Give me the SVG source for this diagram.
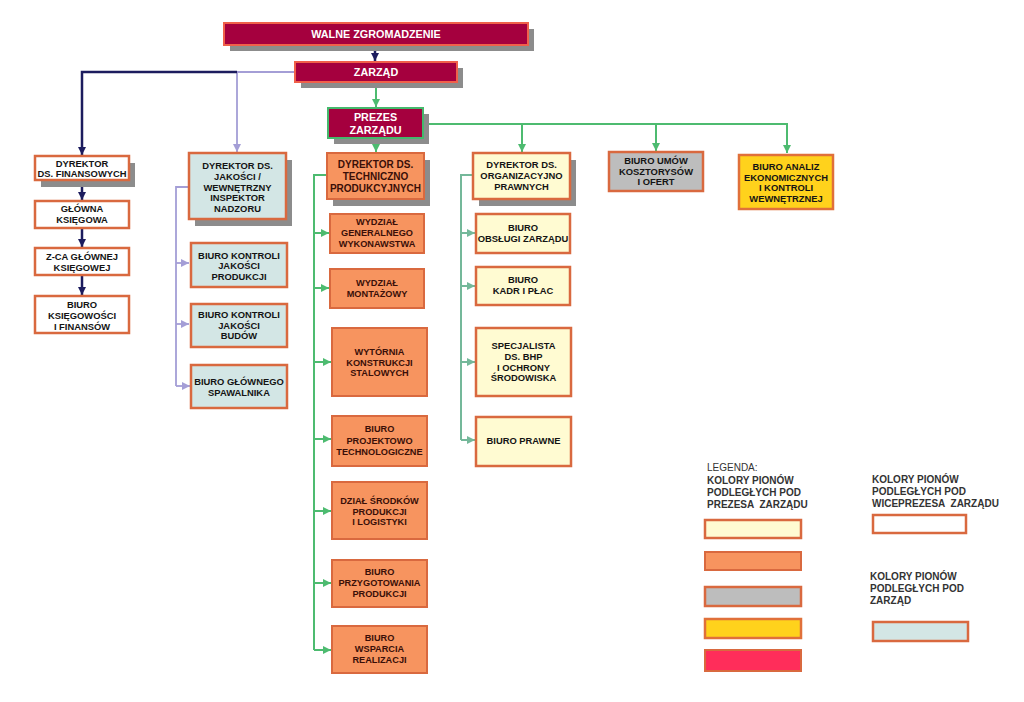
<svg xmlns="http://www.w3.org/2000/svg" width="1024" height="702" viewBox="0 0 1024 702">
<style>
text{font-family:"Liberation Sans",Arial,sans-serif;font-weight:bold;font-size:9.4px;text-anchor:middle;fill:#141414}
.t{fill:#ffffff;font-size:10.8px}
.ot{fill:#3a0f08;font-size:9.2px}
.sh{fill:#8c8c8c}
.top{fill:#a5003e;stroke:#f0604a;stroke-width:2}
.topg{fill:#a5003e;stroke:#45b86c;stroke-width:2}
.w{fill:#ffffff;stroke:#d9693f;stroke-width:2.5}
.b{fill:#d3e6e5;stroke:#d9693f;stroke-width:2.5}
.o{fill:#f7945f;stroke:#d9693f;stroke-width:2}
.y{fill:#fffbd2;stroke:#d9693f;stroke-width:2.5}
.g{fill:#bdbdbd;stroke:#d9693f;stroke-width:2.5}
.gold{fill:#ffd21c;stroke:#e0703a;stroke-width:2.5}
.pk{fill:#ff2d5a;stroke:#d9693f;stroke-width:2}
.lg{font-weight:normal;text-anchor:start;fill:#333;font-size:10px}
.lgb{text-anchor:start;fill:#333;font-size:10px;font-weight:bold;white-space:pre}
.cn{fill:none;stroke:#1c1c5e;stroke-width:2.5}
.cl{fill:none;stroke:#a49ed6;stroke-width:1.8}
.cg{fill:none;stroke:#4dbb70;stroke-width:2}
.ct{fill:none;stroke:#74b89a;stroke-width:2}
</style>
<defs>
<marker id="an" markerUnits="userSpaceOnUse" markerWidth="9" markerHeight="9" refX="8" refY="4.5" orient="auto"><path d="M0,0.5 L8,4.5 L0,8.5 Z" fill="#1c1c5e"/></marker>
<marker id="al" markerUnits="userSpaceOnUse" markerWidth="9" markerHeight="9" refX="8" refY="4.5" orient="auto"><path d="M0,0.5 L8,4.5 L0,8.5 Z" fill="#a49ed6"/></marker>
<marker id="ag" markerUnits="userSpaceOnUse" markerWidth="9" markerHeight="9" refX="8" refY="4.5" orient="auto"><path d="M0,0.5 L8,4.5 L0,8.5 Z" fill="#4dbb70"/></marker>
<marker id="at" markerUnits="userSpaceOnUse" markerWidth="9" markerHeight="9" refX="8" refY="4.5" orient="auto"><path d="M0,0.5 L8,4.5 L0,8.5 Z" fill="#74b89a"/></marker>
</defs>
<rect width="1024" height="702" fill="#ffffff"/>

<g id="connectors">
<path class="cn" d="M375,45 V61" marker-end="url(#an)"/>
<path class="cl" d="M295,72 H237 V152" marker-end="url(#al)"/>
<path class="cn" d="M237,72 H82 V155" marker-end="url(#an)"/>
<path class="cn" d="M82,181 V200" marker-end="url(#an)"/>
<path class="cn" d="M82,229 V247" marker-end="url(#an)"/>
<path class="cn" d="M82,276 V295" marker-end="url(#an)"/>
<path class="cl" d="M189,187 H176 V386"/>
<path class="cl" d="M176,263 H189" marker-end="url(#al)"/>
<path class="cl" d="M176,324 H189" marker-end="url(#al)"/>
<path class="cl" d="M176,386 H190" marker-end="url(#al)"/>
<path class="cg" d="M376,83 V107" marker-end="url(#ag)"/>
<path class="cg" d="M376,139 V152" marker-end="url(#ag)"/>
<path class="cg" d="M424,124 H787 V153" marker-end="url(#ag)"/>
<path class="cg" d="M522,124 V152" marker-end="url(#ag)"/>
<path class="cg" d="M656,124 V151" marker-end="url(#ag)"/>
<path class="cg" d="M327,175 H314 V650"/>
<path class="cg" d="M314,233 H329" marker-end="url(#ag)"/>
<path class="cg" d="M314,288 H329" marker-end="url(#ag)"/>
<path class="cg" d="M314,362 H331" marker-end="url(#ag)"/>
<path class="cg" d="M314,439 H331" marker-end="url(#ag)"/>
<path class="cg" d="M314,511 H331" marker-end="url(#ag)"/>
<path class="cg" d="M314,583 H331" marker-end="url(#ag)"/>
<path class="cg" d="M314,650 H331" marker-end="url(#ag)"/>
<path class="ct" d="M473,175 H461 V440"/>
<path class="ct" d="M461,233 H475" marker-end="url(#at)"/>
<path class="ct" d="M461,286 H475" marker-end="url(#at)"/>
<path class="ct" d="M461,362 H475" marker-end="url(#at)"/>
<path class="ct" d="M461,440 H475" marker-end="url(#at)"/>
</g>

<g id="walne">
<rect class="sh" x="230" y="29" width="304" height="22"/>
<rect class="top" x="224" y="23" width="304" height="22"/>
<text class="t" x="376" y="38">WALNE ZGROMADZENIE</text>
</g>
<g id="zarzad">
<rect class="sh" x="301" y="68" width="162" height="20"/>
<rect class="top" x="295" y="62" width="162" height="20"/>
<text class="t" x="376" y="76">ZARZĄD</text>
</g>
<g id="prezes">
<rect class="sh" x="334" y="114" width="95" height="30"/>
<rect class="topg" x="328" y="108" width="95" height="30"/>
<text class="t" x="375.5" y="121">PREZES</text>
<text class="t" x="375.5" y="134">ZARZĄDU</text>
</g>

<g id="dyr-fin">
<rect class="sh" x="41" y="163" width="94" height="24"/>
<rect class="w" x="35" y="156" width="94" height="24"/>
<text x="82" y="167">DYREKTOR</text>
<text x="82" y="177">DS. FINANSOWYCH</text>
</g>
<g id="glowna">
<rect class="w" x="35" y="201" width="94" height="27"/>
<text x="82" y="212">GŁÓWNA</text>
<text x="82" y="222.5">KSIĘGOWA</text>
</g>
<g id="zca">
<rect class="w" x="35" y="248" width="94" height="27"/>
<text x="82" y="260">Z-CA GŁÓWNEJ</text>
<text x="82" y="270.5">KSIĘGOWEJ</text>
</g>
<g id="biuro-ksieg">
<rect class="w" x="35" y="296" width="94" height="37"/>
<text x="82" y="308">BIURO</text>
<text x="82" y="319">KSIĘGOWOŚCI</text>
<text x="82" y="330">I FINANSÓW</text>
</g>

<g id="dyr-jak">
<rect class="sh" x="195" y="160" width="97" height="66"/>
<rect class="b" x="189" y="153" width="97" height="66"/>
<text x="237.5" y="169">DYREKTOR DS.</text>
<text x="237.5" y="180">JAKOŚCI /</text>
<text x="237.5" y="190.5">WEWNĘTRZNY</text>
<text x="237.5" y="201">INSPEKTOR</text>
<text x="237.5" y="211.5">NADZORU</text>
</g>
<g id="bk-prod">
<rect class="b" x="191" y="243" width="96" height="44"/>
<text x="239" y="259">BIURO KONTROLI</text>
<text x="239" y="269">JAKOŚCI</text>
<text x="239" y="279.5">PRODUKCJI</text>
</g>
<g id="bk-bud">
<rect class="b" x="191" y="304" width="96" height="43"/>
<text x="239" y="318">BIURO KONTROLI</text>
<text x="239" y="328.5">JAKOŚCI</text>
<text x="239" y="339">BUDÓW</text>
</g>
<g id="bg-spaw">
<rect class="b" x="191" y="365" width="96" height="43"/>
<text x="239" y="385">BIURO GŁÓWNEGO</text>
<text x="239" y="396">SPAWALNIKA</text>
</g>

<g id="dyr-tech">
<rect class="sh" x="333" y="160" width="97" height="46"/>
<rect class="o" x="327" y="153" width="97" height="46"/>
<text class="ot" x="375.5" y="168" style="font-size:10px">DYREKTOR DS.</text>
<text class="ot" x="375.5" y="180" style="font-size:10px">TECHNICZNO</text>
<text class="ot" x="375.5" y="192" style="font-size:10px">PRODUKCYJNYCH</text>
</g>
<g id="wyd-gen">
<rect class="o" x="330" y="214" width="94" height="39"/>
<text class="ot" x="377" y="225">WYDZIAŁ</text>
<text class="ot" x="377" y="236">GENERALNEGO</text>
<text class="ot" x="377" y="247">WYKONAWSTWA</text>
</g>
<g id="wyd-mont">
<rect class="o" x="330" y="269" width="94" height="39"/>
<text class="ot" x="377" y="286">WYDZIAŁ</text>
<text class="ot" x="377" y="297">MONTAŻOWY</text>
</g>
<g id="wytornia">
<rect class="o" x="332" y="328" width="95" height="68"/>
<text class="ot" x="379.5" y="355">WYTÓRNIA</text>
<text class="ot" x="379.5" y="365.5">KONSTRUKCJI</text>
<text class="ot" x="379.5" y="376">STALOWYCH</text>
</g>
<g id="biuro-proj">
<rect class="o" x="332" y="416" width="95" height="50"/>
<text class="ot" x="379.5" y="432">BIURO</text>
<text class="ot" x="379.5" y="444">PROJEKTOWO</text>
<text class="ot" x="379.5" y="455">TECHNOLOGICZNE</text>
</g>
<g id="dzial-srod">
<rect class="o" x="332" y="482" width="95" height="57"/>
<text class="ot" x="379.5" y="504">DZIAŁ ŚRODKÓW</text>
<text class="ot" x="379.5" y="514.5">PRODUKCJI</text>
<text class="ot" x="379.5" y="525">I LOGISTYKI</text>
</g>
<g id="biuro-przyg">
<rect class="o" x="332" y="560" width="95" height="47"/>
<text class="ot" x="379.5" y="575">BIURO</text>
<text class="ot" x="379.5" y="586">PRZYGOTOWANIA</text>
<text class="ot" x="379.5" y="597">PRODUKCJI</text>
</g>
<g id="biuro-wsp">
<rect class="o" x="332" y="626" width="95" height="47"/>
<text class="ot" x="379.5" y="641">BIURO</text>
<text class="ot" x="379.5" y="652">WSPARCIA</text>
<text class="ot" x="379.5" y="663">REALIZACJI</text>
</g>

<g id="dyr-org">
<rect class="sh" x="479" y="160" width="97" height="46"/>
<rect class="y" x="473" y="153" width="97" height="46"/>
<text x="521.5" y="168">DYREKTOR DS.</text>
<text x="521.5" y="179">ORGANIZACYJNO</text>
<text x="521.5" y="190">PRAWNYCH</text>
</g>
<g id="biuro-obs">
<rect class="y" x="476" y="214" width="94" height="39"/>
<text x="523" y="231">BIURO</text>
<text x="523" y="241.5">OBSŁUGI ZARZĄDU</text>
</g>
<g id="biuro-kadr">
<rect class="y" x="476" y="267" width="94" height="38"/>
<text x="523" y="283">BIURO</text>
<text x="523" y="294">KADR I PŁAC</text>
</g>
<g id="specjalista">
<rect class="y" x="476" y="328" width="95" height="68"/>
<text x="523.5" y="349">SPECJALISTA</text>
<text x="523.5" y="360">DS. BHP</text>
<text x="523.5" y="370.5">I OCHRONY</text>
<text x="523.5" y="381">ŚRODOWISKA</text>
</g>
<g id="biuro-prawne">
<rect class="y" x="476" y="417" width="95" height="49"/>
<text x="523.5" y="444">BIURO PRAWNE</text>
</g>

<g id="biuro-umow">
<rect class="g" x="609" y="152" width="94" height="39"/>
<text x="656" y="164">BIURO UMÓW</text>
<text x="656" y="174.5">KOSZTORYSÓW</text>
<text x="656" y="185">I OFERT</text>
</g>
<g id="biuro-analiz">
<rect class="gold" x="739" y="155" width="94" height="54"/>
<text x="786" y="170">BIURO ANALIZ</text>
<text x="786" y="180.5">EKONOMICZNYCH</text>
<text x="786" y="191">I KONTROLI</text>
<text x="786" y="201.5">WEWNĘTRZNEJ</text>
</g>

<g id="legend">
<text class="lg" x="707" y="471">LEGENDA:</text>
<text class="lgb" x="707" y="484">KOLORY PIONÓW</text>
<text class="lgb" x="707" y="496">PODLEGŁYCH POD</text>
<text class="lgb" x="707" y="508" xml:space="preserve">PREZESA  ZARZĄDU</text>
<rect class="y" x="705" y="520" width="96" height="18"/>
<rect class="o" x="705" y="552" width="96" height="18"/>
<rect class="g" x="705" y="587" width="96" height="19"/>
<rect class="gold" x="705" y="619" width="96" height="19"/>
<rect class="pk" x="705" y="650" width="96" height="21"/>
<text class="lgb" x="872" y="483">KOLORY PIONÓW</text>
<text class="lgb" x="872" y="495">PODLEGŁYCH POD</text>
<text class="lgb" x="872" y="507" xml:space="preserve">WICEPREZESA  ZARZĄDU</text>
<rect class="w" x="873" y="515" width="93" height="18"/>
<text class="lgb" x="870" y="580">KOLORY PIONÓW</text>
<text class="lgb" x="870" y="592">PODLEGŁYCH POD</text>
<text class="lgb" x="870" y="604">ZARZĄD</text>
<rect class="b" x="873" y="622" width="95" height="19"/>
</g>
</svg>
